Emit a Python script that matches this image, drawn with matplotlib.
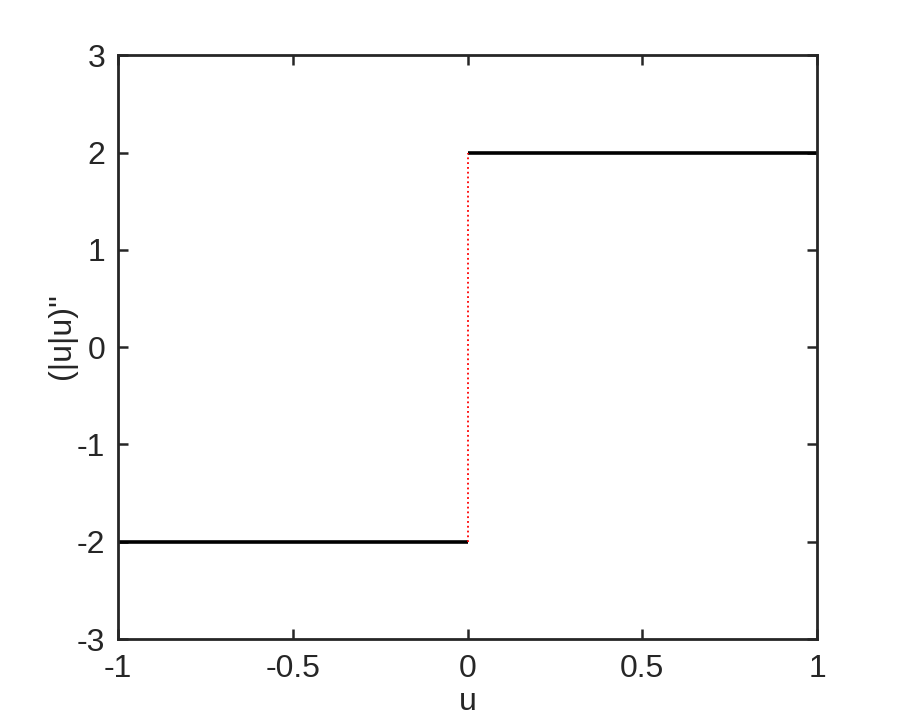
import matplotlib
matplotlib.use("Agg")
import matplotlib.pyplot as plt
import numpy as np

# piecewise second derivative of |u|u
u_left = [-1.0, 0.0]
val_left = [-2.0, -2.0]
u_right = [0.0, 1.0]
val_right = [2.0, 2.0]
jump_u = [0.0, 0.0]
jump_val = [-2.0, 2.0]

xticks = [-1, -0.5, 0, 0.5, 1]
yticks = [-3, -2, -1, 0, 1, 2, 3]

plt.rcParams["font.family"] = ["Liberation Sans", "DejaVu Sans"]

fig = plt.figure(figsize=(9.02, 7.18), dpi=100)
ax = fig.add_axes([0.1308, 0.11, 0.775, 0.813])

ax.plot(u_left, val_left, color="black", linewidth=2.6, solid_capstyle="butt")
ax.plot(u_right, val_right, color="black", linewidth=2.6, solid_capstyle="butt")
ax.plot(jump_u, jump_val, color="red", linestyle=":", linewidth=1.3)

ax.set_xlim(-1, 1)
ax.set_ylim(-3, 3)
ax.set_xticks(xticks)
ax.set_xticklabels([f"{v:g}" for v in xticks])
ax.set_yticks(yticks)
ax.set_yticklabels([f"{v:g}" for v in yticks])

ax.tick_params(direction="in", top=True, right=True, length=7, width=1.8,
               labelsize=23, color="#262626", labelcolor="#262626")
ax.tick_params(axis="x", pad=11)
ax.tick_params(axis="y", pad=9)
for s in ax.spines.values():
    s.set_linewidth(2.0)
    s.set_color("#262626")

ax.set_xlabel("u", fontsize=23, color="#262626")
ax.xaxis.set_label_coords(0.5, -0.082)
ax.set_ylabel("(|u|u)''", fontsize=23, color="#262626")
ax.yaxis.set_label_coords(-0.059, 0.519)

fig.savefig("out.png", dpi=100, facecolor="white")
